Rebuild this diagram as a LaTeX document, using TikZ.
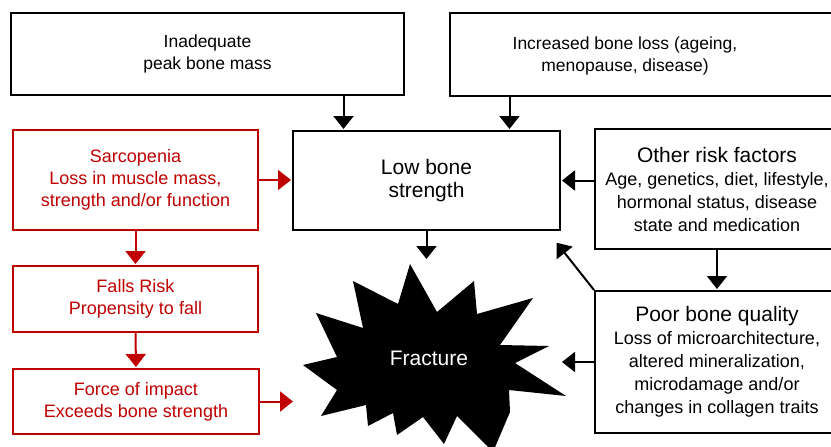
\documentclass[tikz,border=0pt]{standalone}
\usepackage{fontspec}
\setmainfont{Liberation Sans}
\usetikzlibrary{arrows.meta, positioning}
\definecolor{Rojo}{RGB}{192, 0, 0}

\begin{document}
\begin{tikzpicture}[x=1pt, y=-1pt,
        box/.style={rectangle, draw=black, line width=2pt, fill=white, inner sep=2pt, align=center, anchor=north west},
        redbox/.style={box, draw=Rojo, text=Rojo, font=\fontsize{18}{22}\selectfont},
        toptxt/.style={font=\fontsize{17.5}{22}\selectfont, align=center},
        subtxt/.style={font=\fontsize{18}{23}\selectfont},
        arr/.style={line width=2pt, -{Triangle[length=13pt, width=20pt]}, shorten >=1pt},
        redarr/.style={arr, draw=Rojo, color=Rojo}
    ]%
        \useasboundingbox (0,0) rectangle (831,447);
        % ================= TOP ROW: CAUSES OF LOW BONE MASS =================
        \node[box, toptxt, minimum width=393pt, minimum height=82pt] (peak) at (10,12) {Inadequate\\peak bone mass};
        \node[box, minimum width=400pt, minimum height=83pt] (loss) at (449,12) {};
        \node[toptxt] (losstext) at (625,56) {Increased bone loss (ageing,\\menopause, disease)};
        % ================= CENTRAL COLUMN =================
        % 1. Low bone strength
        \node[box, font=\fontsize{21}{23}\selectfont, minimum width=267pt, minimum height=99pt] (low) at (292,130) {Low bone\\strength};
        % 2. Fracture (starburst drawn as a polygon, text node on top)
        \fill[black] (410,264) -- (437,312) -- (474,281) -- (477,314) -- (533,298) -- (500,345)
            -- (549,346) -- (515,363) -- (566,396) -- (509,390) -- (510,412) -- (493,452)
            -- (457,416) -- (444,444) -- (423,417) -- (397,435) -- (393,413) -- (368,426)
            -- (366,405) -- (321,416) -- (337,390) -- (303,365) -- (337,357) -- (316,313)
            -- (363,328) -- (353,281) -- (398,304) -- cycle;
        \node[text=white, font=\fontsize{21}{22}\selectfont] (fracture) at (429,358) {Fracture};
        \coordinate (frac_top) at (425,260);
        \coordinate (frac_left) at (294,400);
        \coordinate (frac_right) at (561,361);
        \coordinate (low_corner) at (556,242);
        % ================= RIGHT COLUMN (BOXES RUN PAST THE EDGE) =================
        \node[box, subtxt, minimum width=244pt, minimum height=120pt] (risk) at (594,128)
            {{\fontsize{21}{24}\selectfont Other risk factors}\\Age, genetics, diet, lifestyle,\\hormonal status, disease\\state and medication};
        \node[box, subtxt, minimum width=244pt, minimum height=142pt] (quality) at (594,290)
            {{\fontsize{21}{24}\selectfont Poor bone quality}\\Loss of microarchitecture,\\altered mineralization,\\microdamage and/or\\changes in collagen traits};
        % ================= LEFT COLUMN (MUSCLE / FALLS, IN RED) =================
        \node[redbox, minimum width=245pt, minimum height=100pt] (sarco) at (12,129) {Sarcopenia\\Loss in muscle mass,\\strength and/or function};
        \node[redbox, minimum width=245pt, minimum height=66pt] (falls) at (12,265) {Falls Risk\\Propensity to fall};
        \node[redbox, minimum width=246pt, minimum height=65pt] (impact) at (12,368) {Force of impact\\Exceeds bone strength};
        % ================= CONNECTIONS =================
        \draw[arr] ([xshift=-83pt]low.north |- peak.south) -- ([xshift=-83pt]low.north);
        \draw[arr] ([xshift=83pt]low.north |- loss.south) -- ([xshift=83pt]low.north);
        \draw[arr] (risk.west |- low.east) -- (low.east);
        \draw[arr] (low.south) -- (low.south |- frac_top);
        \draw[arr] (risk.south) -- (quality.north);
        \draw[arr] (quality.north west) -- (low_corner);
        \draw[arr] (quality.west) -- (quality.west -| frac_right);
        \draw[redarr] (sarco.east) -- (sarco.east -| low.west);
        \draw[redarr] (sarco.south) -- (falls.north);
        \draw[redarr] (falls.south) -- (impact.north);
        \draw[redarr] (impact.east) -- (impact.east -| frac_left);
    \end{tikzpicture}
\end{document}
